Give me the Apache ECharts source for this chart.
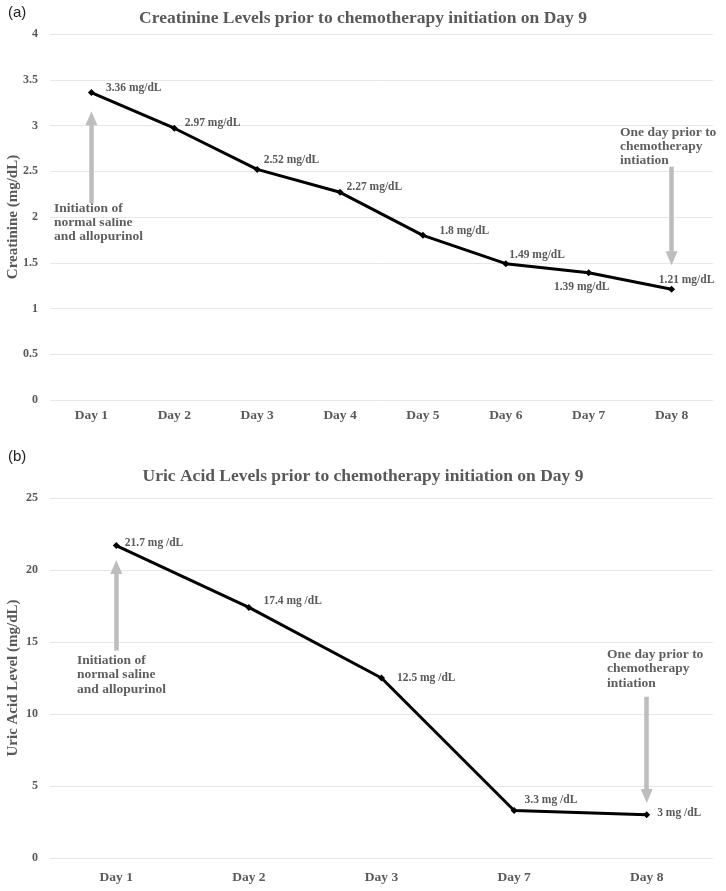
<!DOCTYPE html>
<html>
<head>
<meta charset="utf-8">
<script src="https://cdn.jsdelivr.net/npm/echarts@6/dist/echarts.min.js"></script>
<style>
  html, body { margin: 0; padding: 0; background: #fff; }
  #chart_container { width: 726px; height: 891px; }
</style>
</head>
<body>
<div id="chart_container"></div>
<script>
// panel (a) creatinine
var creatDays = ['Day 1', 'Day 2', 'Day 3', 'Day 4', 'Day 5', 'Day 6', 'Day 7', 'Day 8'];
var creatValues = [3.36, 2.97, 2.52, 2.27, 1.8, 1.49, 1.39, 1.21];
var creatTicks = [0, 4, 0.5]; // min, max, step

// panel (b) uric acid
var uricDays = ['Day 1', 'Day 2', 'Day 3', 'Day 7', 'Day 8'];
var uricValues = [21.7, 17.4, 12.5, 3.3, 3];
var uricTicks = [0, 25, 5];

// label placement for each point
var creatLabelPos = [
  ['right', [6, -5]], ['right', [2, -5]], ['right', [-2, -9]], ['right', [-2, -5]],
  ['right', [8, -4]], ['right', [-5, -9]], ['bottom', [-7, 0]], ['top', [15, 5]]
];
var uricLabelPos = [
  ['right', [0, -2]], ['right', [6, -6]], ['right', [7, 0]], ['right', [2, -10]], ['right', [2, -2]]
];

var GRAY = '#595959';
var SERIF = '"Liberation Serif", "Times New Roman", serif';
var ARROW = '#bdbdbd';

function buildData(values, pos, unit) {
  return values.map(function (v, i) {
    return {
      value: v,
      label: {
        position: pos[i][0],
        offset: pos[i][1],
        formatter: v + unit
      }
    };
  });
}

function arrow(x, y0, y1) {
  return [{ coord: [x, y0] }, { coord: [x, y1] }];
}

var chart = echarts.init(document.getElementById('chart_container'));

var axisLabelStyle = { color: GRAY, fontFamily: SERIF, fontWeight: 'bold' };

var option = {
  animation: false,
  backgroundColor: '#fff',
  title: [
    {
      text: 'Creatinine Levels prior to chemotherapy initiation on Day 9',
      left: 'center', top: 4,
      textStyle: { fontFamily: SERIF, fontWeight: 'bold', fontSize: 17.5, color: GRAY }
    },
    {
      text: 'Uric Acid Levels prior to chemotherapy initiation on Day 9',
      left: 'center', top: 462,
      textStyle: { fontFamily: SERIF, fontWeight: 'bold', fontSize: 17.5, color: GRAY }
    }
  ],
  grid: [
    { left: 50, right: 13, top: 34, bottom: 491, outerBoundsMode: 'none', containLabel: false },
    { left: 50, right: 13, top: 498, bottom: 33, outerBoundsMode: 'none', containLabel: false }
  ],
  xAxis: [
    {
      gridIndex: 0, type: 'category', data: creatDays,
      axisLine: { show: false }, axisTick: { show: false },
      axisLabel: Object.assign({ fontSize: 13.5, margin: 9 }, axisLabelStyle)
    },
    {
      gridIndex: 1, type: 'category', data: uricDays,
      axisLine: { show: false }, axisTick: { show: false },
      axisLabel: Object.assign({ fontSize: 13.5, margin: 13 }, axisLabelStyle)
    }
  ],
  yAxis: [
    {
      gridIndex: 0, type: 'value', min: creatTicks[0], max: creatTicks[1], interval: creatTicks[2],
      name: 'Creatinine (mg/dL)', nameLocation: 'middle', nameGap: 29, nameMoveOverlap: false,
      nameTextStyle: { fontFamily: SERIF, fontWeight: 'bold', fontSize: 15, color: GRAY },
      axisLine: { show: false }, axisTick: { show: false },
      axisLabel: Object.assign({ fontSize: 12, margin: 12 }, axisLabelStyle),
      splitLine: { lineStyle: { color: '#e4e8ea', width: 1 } }
    },
    {
      gridIndex: 1, type: 'value', min: uricTicks[0], max: uricTicks[1], interval: uricTicks[2],
      name: 'Uric Acid Level (mg/dL)', nameLocation: 'middle', nameGap: 29, nameMoveOverlap: false,
      nameTextStyle: { fontFamily: SERIF, fontWeight: 'bold', fontSize: 15, color: GRAY },
      axisLine: { show: false }, axisTick: { show: false },
      axisLabel: Object.assign({ fontSize: 12, margin: 12 }, axisLabelStyle),
      splitLine: { lineStyle: { color: '#e4e8ea', width: 1 } }
    }
  ],
  series: [
    {
      type: 'line', xAxisIndex: 0, yAxisIndex: 0,
      data: buildData(creatValues, creatLabelPos, ' mg/dL'),
      symbol: 'diamond', symbolSize: 7,
      lineStyle: { color: '#000', width: 3 },
      itemStyle: { color: '#000' },
      label: { show: true, fontFamily: SERIF, fontWeight: 'bold', fontSize: 11.5, color: GRAY },
      markLine: {
        silent: true, symbol: ['none', 'triangle'], symbolSize: [12, 14],
        label: { show: false },
        lineStyle: { color: ARROW, width: 4.5, type: 'solid' },
        data: [arrow('Day 1', 2.15, 3.08), arrow('Day 8', 2.55, 1.55)]
      }
    },
    {
      type: 'line', xAxisIndex: 1, yAxisIndex: 1,
      data: buildData(uricValues, uricLabelPos, ' mg /dL'),
      symbol: 'diamond', symbolSize: 7,
      lineStyle: { color: '#000', width: 3 },
      itemStyle: { color: '#000' },
      label: { show: true, fontFamily: SERIF, fontWeight: 'bold', fontSize: 11.5, color: GRAY },
      markLine: {
        silent: true, symbol: ['none', 'triangle'], symbolSize: [12, 14],
        label: { show: false },
        lineStyle: { color: ARROW, width: 4.5, type: 'solid' },
        data: [arrow('Day 1', 14.4, 20.2), arrow('Day 8', 11.2, 4.3)]
      }
    }
  ],
  graphic: [
    { type: 'text', left: 8, top: 5, style: { text: '(a)', font: '15px "Liberation Sans", Arial, sans-serif', fill: '#222' } },
    { type: 'text', left: 8, top: 449, style: { text: '(b)', font: '15px "Liberation Sans", Arial, sans-serif', fill: '#222' } },
    {
      type: 'text', left: 54, top: 202,
      style: { text: 'Initiation of\nnormal saline\nand allopurinol', font: 'bold 13.5px ' + SERIF, fill: '#5f5f5f', lineHeight: 14 }
    },
    {
      type: 'text', left: 620, top: 126,
      style: { text: 'One day prior to\nchemotherapy\nintiation', font: 'bold 13.5px ' + SERIF, fill: '#5f5f5f', lineHeight: 14 }
    },
    {
      type: 'text', left: 77, top: 653,
      style: { text: 'Initiation of\nnormal saline\nand allopurinol', font: 'bold 13.5px ' + SERIF, fill: '#5f5f5f', lineHeight: 14.5 }
    },
    {
      type: 'text', left: 607, top: 647,
      style: { text: 'One day prior to\nchemotherapy\nintiation', font: 'bold 13.5px ' + SERIF, fill: '#5f5f5f', lineHeight: 14.5 }
    }
  ]
};

chart.setOption(option);
</script>
</body>
</html>
